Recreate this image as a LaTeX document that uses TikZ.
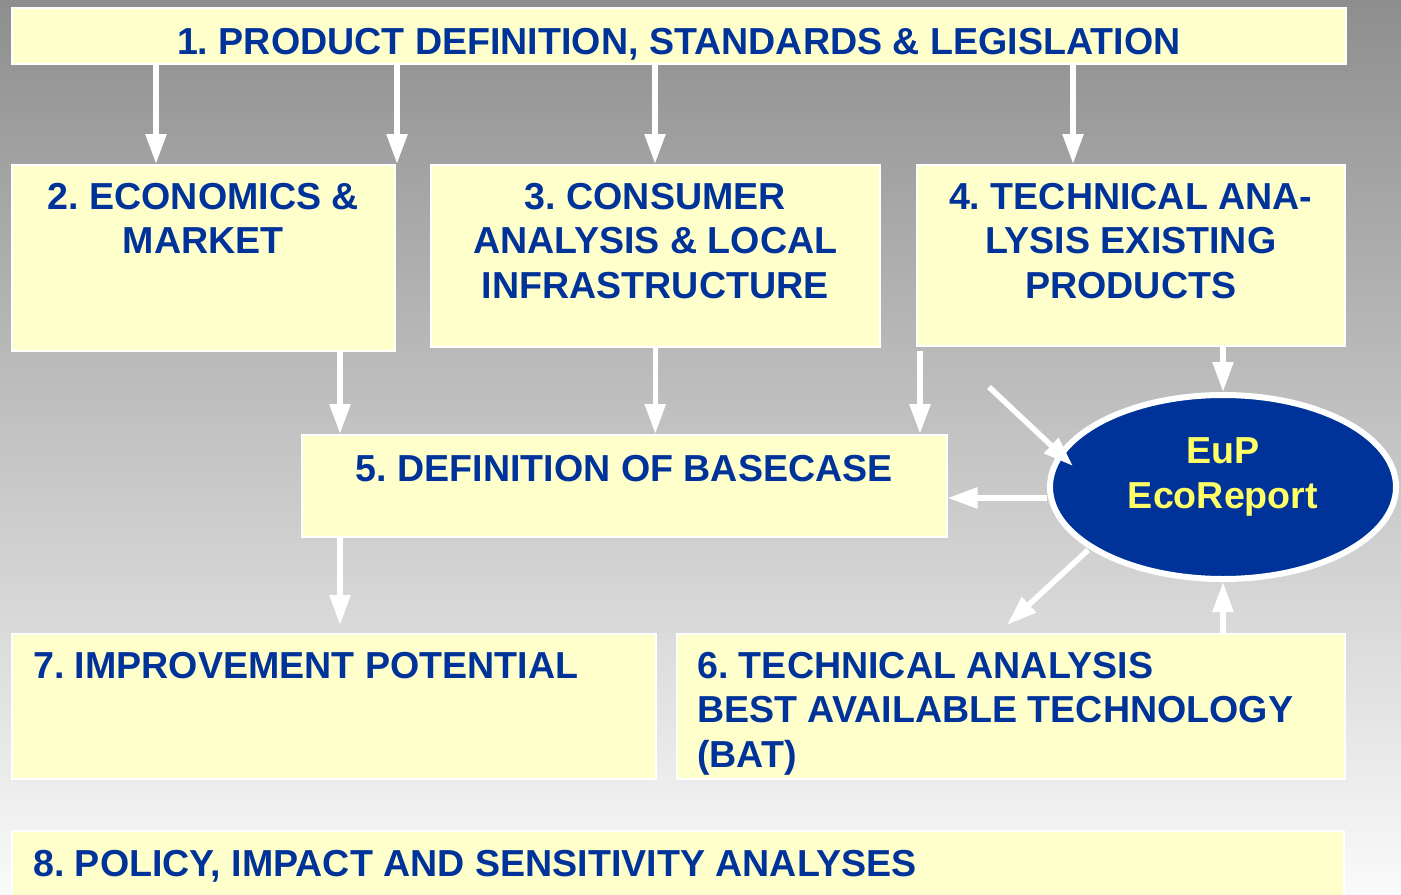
\documentclass[tikz,border=0pt]{standalone}
\usepackage{fontspec}
\setmainfont{Liberation Sans}
\usetikzlibrary{arrows.meta,shapes.geometric,calc}
\definecolor{boxyellow}{HTML}{FFFFCC}
\definecolor{txtblue}{HTML}{003399}
\definecolor{ecoblue}{HTML}{003399}
\definecolor{ecoyellow}{HTML}{FFFF66}
\definecolor{bgtop}{HTML}{8E8E8E}
\definecolor{bgbot}{HTML}{FAFAFA}
\frenchspacing
\tikzset{
  box/.style={draw=white, line width=1.5bp, fill=boxyellow, rectangle, inner sep=0pt, anchor=north west},
  lbl/.style={text=txtblue, font=\fontsize{37.6bp}{44.5bp}\selectfont\bfseries, inner sep=0pt},
  arr/.style={draw=white, line width=5.5bp, -{Triangle[width=20bp,length=30bp]}},
}
\begin{document}
\begin{tikzpicture}[x=1bp,y=-1bp]
\useasboundingbox (0,0) rectangle (1401,894);
\clip (0,0) rectangle (1401,894);
\shade[top color=bgtop, bottom color=bgbot] (0,0) rectangle (1401,894);
% boxes
\node[box, minimum width=1334bp, minimum height=56bp] (b1) at (11,7) {};
\node[box, minimum width=383bp, minimum height=186bp] (b2) at (11,164) {};
\node[box, minimum width=449bp, minimum height=182bp] (b3) at (430,164) {};
\node[box, minimum width=428bp, minimum height=181bp] (b4) at (916,164) {};
\node[box, minimum width=645bp, minimum height=102bp] (b5) at (301,434) {};
\node[box, minimum width=644bp, minimum height=145bp] (b7) at (11,633) {};
\node[box, minimum width=668bp, minimum height=145bp] (b6) at (676,633) {};
\node[box, minimum width=1332bp, minimum height=80bp] (b8) at (11,830) {};
\node[ellipse, draw=white, line width=6bp, fill=ecoblue, minimum width=346bp, minimum height=184bp, inner sep=0pt] (eco) at (1223,487) {};
% texts
\node[lbl, anchor=base] (t1) at ([yshift=-47bp]b1.north) {1. PRODUCT DEFINITION, STANDARDS \& LEGISLATION};
\node[lbl, anchor=north, align=center] (t2) at ([yshift=-19bp]b2.north) {2. ECONOMICS \&\\MARKET};
\node[lbl, anchor=north, align=center] (t3) at ([yshift=-19bp]b3.north) {3. CONSUMER\\ANALYSIS \& LOCAL\\INFRASTRUCTURE};
\node[lbl, anchor=north, align=center] (t4) at ([yshift=-19bp]b4.north) {4. TECHNICAL ANA-\\LYSIS EXISTING\\PRODUCTS};
\node[lbl, anchor=north] (t5) at ([yshift=-21bp]b5.north) {5. DEFINITION OF BASECASE};
\node[lbl, anchor=north west] (t7) at ([xshift=22bp,yshift=-19bp]b7.north west) {7. IMPROVEMENT POTENTIAL};
\node[lbl, anchor=north west, align=left] (t6) at ([xshift=21bp,yshift=-19bp]b6.north west) {6. TECHNICAL ANALYSIS\\BEST AVAILABLE TECHNOLOGY\\(BAT)};
\node[lbl, anchor=north west] (t8) at ([xshift=22bp,yshift=-20bp]b8.north west) {8. POLICY, IMPACT AND SENSITIVITY ANALYSES};
\node[text=ecoyellow, font=\fontsize{37.6bp}{45bp}\selectfont\bfseries, align=center, inner sep=0pt] (te) at ([yshift=10bp]eco.center) {EuP\\EcoReport};
% arrows
\coordinate (d1) at (989,387);
\draw[arr] ([xshift=145bp]b1.south west) -- ([xshift=145bp]b1.south west |- b2.north);
\draw[arr] ([xshift=386bp]b1.south west) -- ([xshift=386bp]b1.south west |- b2.north);
\draw[arr] ([xshift=644bp]b1.south west) -- ([xshift=644bp]b1.south west |- b3.north);
\draw[arr] ([xshift=1062bp]b1.south west) -- ([xshift=1062bp]b1.south west |- b4.north);
\draw[arr] ([xshift=329bp]b2.south west) -- ([xshift=329bp]b2.south west |- b5.north);
\draw[arr] (b3.south) -- (b3.south |- b5.north);
\draw[arr] ([xshift=4bp,yshift=-4bp]b4.south west) -- ([xshift=4bp]b4.south west |- b5.north);
\draw[arr] (b4.south -| eco.north) -- (eco.north);
\draw[arr] (d1) -- ([xshift=-150bp,yshift=21bp]eco.center);
\draw[arr] ([yshift=-11bp]eco.west) -- ([yshift=-11bp]eco.west -| b5.east);
\draw[arr] ([xshift=-135bp,yshift=-63bp]eco.center) -- ([xshift=331bp,yshift=8bp]b6.north west);
\draw[arr] (b6.north -| eco.south) -- (eco.south);
\draw[arr] ([xshift=39bp]b5.south west) -- ([xshift=39bp,yshift=8bp]b5.south west |- b7.north);
\end{tikzpicture}
\end{document}
